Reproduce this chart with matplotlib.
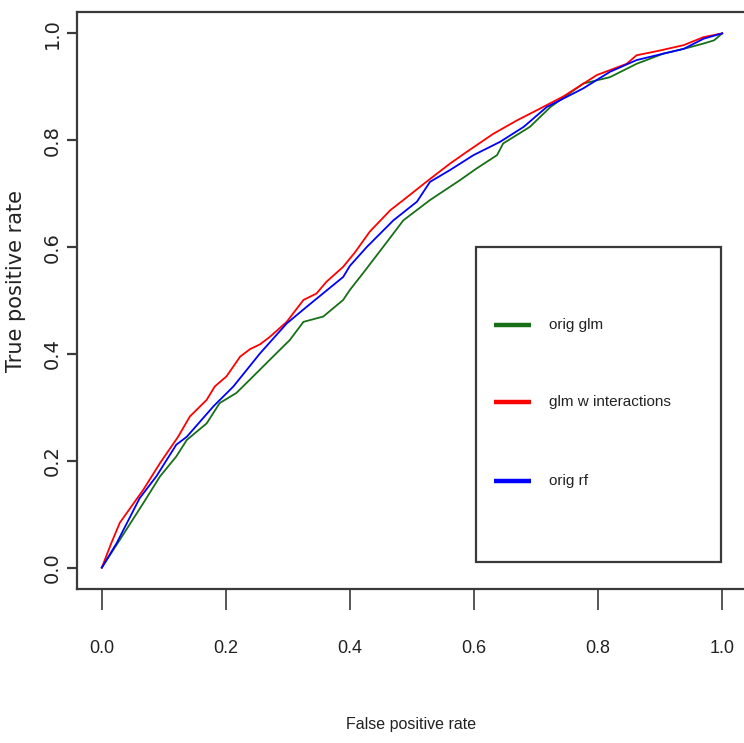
import matplotlib
matplotlib.use("Agg")
import matplotlib.pyplot as plt
from matplotlib.patches import Rectangle

# ---------------- data ----------------
glm_fpr = [0, 0.029, 0.067, 0.094, 0.120, 0.137, 0.169, 0.190, 0.217, 0.244, 0.276,
           0.303, 0.325, 0.357, 0.389, 0.400, 0.421, 0.454, 0.486, 0.529, 0.577,
           0.604, 0.637, 0.647, 0.690, 0.723, 0.776, 0.819, 0.862, 0.905, 0.938,
           0.970, 0.987, 1.0]
glm_tpr = [0, 0.052, 0.121, 0.171, 0.208, 0.239, 0.270, 0.308, 0.327, 0.358, 0.395,
           0.426, 0.460, 0.470, 0.501, 0.520, 0.551, 0.601, 0.650, 0.688, 0.725,
           0.747, 0.772, 0.794, 0.825, 0.862, 0.906, 0.918, 0.943, 0.962, 0.971,
           0.981, 0.987, 1.0]

int_fpr = [0, 0.015, 0.029, 0.048, 0.067, 0.094, 0.123, 0.142, 0.169, 0.182, 0.201,
           0.223, 0.239, 0.255, 0.271, 0.298, 0.325, 0.346, 0.362, 0.389, 0.408,
           0.432, 0.465, 0.486, 0.523, 0.561, 0.588, 0.631, 0.669, 0.701, 0.744,
           0.798, 0.846, 0.862, 0.900, 0.938, 0.970, 1.0]
int_tpr = [0, 0.045, 0.084, 0.115, 0.146, 0.196, 0.245, 0.283, 0.314, 0.339, 0.358,
           0.395, 0.409, 0.418, 0.432, 0.460, 0.501, 0.513, 0.535, 0.563, 0.590,
           0.629, 0.669, 0.688, 0.722, 0.756, 0.778, 0.812, 0.837, 0.856, 0.882,
           0.922, 0.943, 0.959, 0.968, 0.978, 0.993, 1.0]

rf_fpr = [0, 0.024, 0.061, 0.088, 0.120, 0.137, 0.180, 0.212, 0.255, 0.298, 0.330,
          0.389, 0.400, 0.427, 0.470, 0.508, 0.529, 0.561, 0.599, 0.642, 0.680,
          0.717, 0.776, 0.819, 0.862, 0.905, 0.938, 0.970, 1.0]
rf_tpr = [0, 0.046, 0.130, 0.171, 0.230, 0.245, 0.302, 0.339, 0.401, 0.457, 0.488,
          0.544, 0.565, 0.600, 0.650, 0.685, 0.722, 0.744, 0.772, 0.797, 0.825,
          0.862, 0.897, 0.928, 0.950, 0.962, 0.971, 0.990, 1.0]

series_labels = ["orig glm", "glm w interactions", "orig rf"]
series_colors = ["#177017", "#ff0000", "#0000ff"]
tick_values = [0.0, 0.2, 0.4, 0.6, 0.8, 1.0]
tick_labels = ["0.0", "0.2", "0.4", "0.6", "0.8", "1.0"]

narrow = "Liberation Sans"

# ---------------- figure ----------------
W, H = 744, 743
fig = plt.figure(figsize=(W / 100, H / 100), dpi=100)
ax = fig.add_axes([77 / W, (H - 589) / H, (747 - 77) / W, (589 - 12) / H])
ax.set_xlim(-0.04, 1.04)
ax.set_ylim(-0.04, 1.04)

curves = [(glm_fpr, glm_tpr), (int_fpr, int_tpr), (rf_fpr, rf_tpr)]
for (fx, ty), c in zip(curves, series_colors):
    ax.plot(fx, ty, color=c, lw=1.3, solid_joinstyle="miter")

spine_col = "#3a3a3a"
for s in ["top", "left", "bottom"]:
    ax.spines[s].set_color(spine_col)
    ax.spines[s].set_linewidth(1.6)
ax.spines["right"].set_visible(False)

ax.set_xticks(tick_values)
ax.set_xticklabels(tick_labels, fontfamily=narrow, fontsize=13, color="#222222")
ax.set_yticks(tick_values)
ax.set_yticklabels(tick_labels, fontfamily="DejaVu Sans", fontsize=14, color="#222222",
                   rotation=90, va="center")
ax.tick_params(axis="x", length=15, width=1.2, color=spine_col, pad=22)
ax.tick_params(axis="y", length=7.2, width=1.6, color=spine_col, pad=4)

# legend box (manual, R style)
ax.add_patch(Rectangle((0.603, 0.011), 0.998 - 0.603, 0.600 - 0.011,
                       fill=False, edgecolor=spine_col, lw=1.6))
leg_y = [0.454, 0.310, 0.163]
for yv, lab, c in zip(leg_y, series_labels, series_colors):
    ax.plot([0.632, 0.692], [yv, yv], color=c, lw=3.2, solid_capstyle="butt")
    ax.text(0.721, yv, lab, fontfamily=narrow, fontsize=11, color="#222222",
            ha="left", va="center")

fig.text(411 / W, 1 - 725 / H, "False positive rate", fontfamily=narrow,
         fontsize=11.5, color="#222222", ha="center", va="center")
fig.text(16 / W, 1 - 281 / H, "True positive rate", fontfamily="DejaVu Sans",
         fontsize=15, color="#222222", ha="center", va="center", rotation=90)

fig.savefig("out.png", dpi=100)
